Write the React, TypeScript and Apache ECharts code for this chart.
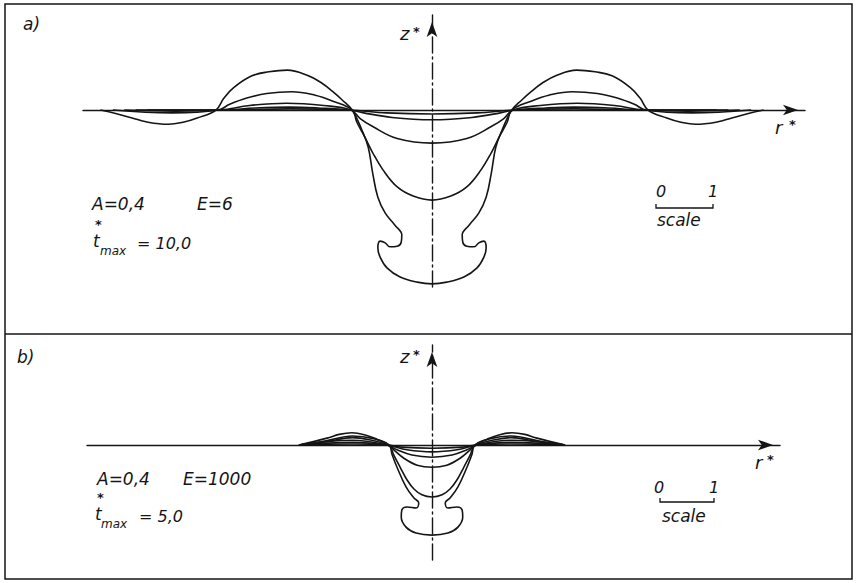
import React, { useEffect, useRef } from "react";
import * as echarts from "echarts";

// ---- Panel a) (A=0,4, E=6): right halves of axisymmetric interface profiles, scale units ----
const a1R = [0, 0.8, 1.45, 2.5, 3.7, 5.0];
const a1Z = [-0.07, -0.05, 0, 0.02, 0, 0];
const a2R = [0, 0.7, 1.2, 1.45, 2.0, 2.5, 3.1, 3.7, 5.2];
const a2Z = [-0.17, -0.13, -0.05, 0, 0.035, 0.05, 0.035, 0, 0];
const a3R = [0, 0.61, 1.04, 1.26, 1.42, 1.9, 2.55, 3.2, 3.72, 4.5, 5.4];
const a3Z = [-0.58, -0.5, -0.29, -0.15, 0, 0.08, 0.12, 0.08, 0, -0.02, 0];
const a4R = [0, 0.33, 0.61, 0.86, 1.04, 1.18, 1.32, 1.4, 1.75, 2.05, 2.46, 2.9, 3.25, 3.55, 3.75, 4.56, 5.6];
const a4Z = [-1.58, -1.51, -1.35, -1.05, -0.75, -0.47, -0.21, 0, 0.16, 0.26, 0.32, 0.29, 0.21, 0.1, 0, -0.05, 0];
const a5R = [0, 0.26, 0.56, 0.79, 0.91, 0.95, 0.91, 0.82, 0.74, 0.61, 0.54, 0.53, 0.65, 0.82, 0.95, 1.04, 1.12, 1.23, 1.4, 1.58, 1.75, 1.93, 2.19, 2.54, 2.86, 3.16, 3.47, 3.65, 3.79, 4.12, 4.35, 4.63, 5.0, 5.26, 5.55, 5.82];
const a5Z = [-3.05, -3.02, -2.93, -2.77, -2.58, -2.42, -2.3, -2.33, -2.4, -2.39, -2.32, -2.19, -2.02, -1.81, -1.53, -1.11, -0.65, -0.35, 0, 0.18, 0.33, 0.47, 0.61, 0.7, 0.67, 0.6, 0.4, 0.21, 0, -0.14, -0.21, -0.25, -0.21, -0.14, -0.06, 0];

// ---- Panel b) (A=0,4, E=1000) ----
const b1R = [0, 0.57, 0.85, 1.5, 2.51];
const b1Z = [-0.06, -0.04, 0, 0.02, 0];
const b2R = [0, 0.47, 0.85, 1.5, 2.51];
const b2Z = [-0.13, -0.09, 0, 0.05, 0];
const b3R = [0, 0.38, 0.66, 0.85, 1.5, 2.51];
const b3Z = [-0.23, -0.19, -0.09, 0, 0.09, 0];
const b4R = [0, 0.28, 0.53, 0.72, 0.83, 1.1, 1.5, 2.0, 2.51];
const b4Z = [-0.42, -0.38, -0.25, -0.09, 0, 0.08, 0.14, 0.06, 0];
const b5R = [0, 0.19, 0.34, 0.47, 0.6, 0.72, 0.81, 1.1, 1.5, 2.0, 2.51];
const b5Z = [-0.98, -0.94, -0.83, -0.66, -0.42, -0.19, 0, 0.12, 0.17, 0.08, 0];
const b6R = [0, 0.3, 0.49, 0.58, 0.57, 0.47, 0.3, 0.25, 0.34, 0.49, 0.66, 0.75, 0.81, 1.04, 1.26, 1.51, 1.75, 1.98, 2.51];
const b6Z = [-1.7, -1.66, -1.55, -1.36, -1.23, -1.17, -1.19, -1.09, -1.0, -0.79, -0.42, -0.19, 0, 0.11, 0.19, 0.23, 0.2, 0.13, 0];

// axis extents (scale units)
const aXRange = [-6.123, 6.544];
const aYRange = [-3.105, 1.667];
const bXRange = [-6.509, 6.566];
const bYRange = [-2.17, 1.887];

const INK = "#151515";
const FONT = '"DejaVu Sans", sans-serif';

function mirror(r: number[], z: number[]): number[][] {
  const left = r.map((v, i) => [-v, z[i]]).reverse();
  const right = r.slice(1).map((v, i) => [v, z[i + 1]]);
  return left.concat(right);
}

function txt(text: string, x: number, y: number, size: number, extra: any = {}) {
  return {
    type: "text",
    x,
    y,
    silent: true,
    style: {
      text,
      fontFamily: FONT,
      fontStyle: "italic",
      fontSize: size,
      fill: INK,
      align: "left",
      verticalAlign: "middle",
      ...extra,
    },
  };
}

function axisLine(dash: any) {
  return {
    show: true,
    onZero: true,
    symbol: ["none", "arrow"],
    symbolSize: [8, 15],
    symbolOffset: [0, -7],
    lineStyle: { color: INK, width: 1.4, type: dash },
  };
}

const STAR = { fontStyle: "normal", fontWeight: "bold" };

export default function App() {
  const ref = useRef<HTMLDivElement>(null);
  useEffect(() => {
    if (!ref.current) return;
    const chart = echarts.init(ref.current, undefined, { renderer: "svg" });
    const curvesA = [
      [a1R, a1Z],
      [a2R, a2Z],
      [a3R, a3Z],
      [a4R, a4Z],
      [a5R, a5Z],
    ];
    const curvesB = [
      [b1R, b1Z],
      [b2R, b2Z],
      [b3R, b3Z],
      [b4R, b4Z],
      [b5R, b5Z],
      [b6R, b6Z],
    ];
    const mk = (c: number[][], idx: number) => ({
      type: "line",
      xAxisIndex: idx,
      yAxisIndex: idx,
      data: mirror(c[0], c[1]),
      symbol: "none",
      smooth: 0.4,
      silent: true,
      lineStyle: { color: INK, width: 1.6 },
    });
    const hidden = {
      axisTick: { show: false },
      axisLabel: { show: false },
      splitLine: { show: false },
    };
    const option: any = {
      animation: false,
      backgroundColor: "#ffffff",
      grid: [
        { left: 83, top: 15, width: 722, height: 272 },
        { left: 87, top: 345, width: 693, height: 215 },
      ],
      xAxis: [
        { type: "value", gridIndex: 0, min: aXRange[0], max: aXRange[1], axisLine: axisLine("solid"), ...hidden },
        { type: "value", gridIndex: 1, min: bXRange[0], max: bXRange[1], axisLine: axisLine("solid"), ...hidden },
      ],
      yAxis: [
        { type: "value", gridIndex: 0, min: aYRange[0], max: aYRange[1], axisLine: axisLine([16, 4, 2, 4]), ...hidden },
        { type: "value", gridIndex: 1, min: bYRange[0], max: bYRange[1], axisLine: axisLine([16, 4, 2, 4]), ...hidden },
      ],
      series: [...curvesA.map((c) => mk(c, 0)), ...curvesB.map((c) => mk(c, 1))],
      graphic: [
        { type: "rect", silent: true, shape: { x: 5, y: 4, width: 847, height: 575 }, style: { fill: "none", stroke: INK, lineWidth: 1.5 } },
        { type: "line", silent: true, shape: { x1: 5, y1: 334, x2: 852, y2: 334 }, style: { stroke: INK, lineWidth: 1.5 } },
        // panel a labels
        txt("a)", 23, 24, 17),
        txt("z", 400, 33, 18),
        txt("*", 413, 31, 13, STAR),
        txt("r", 775, 127, 18),
        txt("*", 789, 124, 13, STAR),
        txt("A=0,4", 92, 204, 17),
        txt("E=6", 197, 204, 17),
        txt("t", 93, 241, 17),
        txt("*", 95, 224.5, 13, STAR),
        txt("max", 100, 251, 12),
        txt("= 10,0", 137, 243, 16),
        txt("0", 656, 191, 16),
        txt("1", 708, 191, 16),
        { type: "polyline", silent: true, shape: { points: [[656, 204], [656, 208], [713, 208], [713, 204]] }, style: { fill: "none", stroke: INK, lineWidth: 1.3 } },
        txt("scale", 657, 220, 17),
        // panel b labels
        txt("b)", 17, 357, 17),
        txt("z", 400, 356, 18),
        txt("*", 413, 354, 13, STAR),
        txt("r", 755, 462, 18),
        txt("*", 767, 459, 13, STAR),
        txt("A=0,4", 97, 479, 17),
        txt("E=1000", 183, 479, 17),
        txt("t", 95, 514, 17),
        txt("*", 97, 497.5, 13, STAR),
        txt("max", 101, 524, 12),
        txt("= 5,0", 139, 516, 16),
        txt("0", 654, 487, 16),
        txt("1", 709, 487, 16),
        { type: "polyline", silent: true, shape: { points: [[660, 498], [660, 502], [714, 502], [714, 498]] }, style: { fill: "none", stroke: INK, lineWidth: 1.3 } },
        txt("scale", 662, 516, 17),
      ],
    };
    chart.setOption(option);
    return () => chart.dispose();
  }, []);
  return (
    <div
      ref={ref}
      style={{ position: "fixed", left: 0, top: 0, width: 857, height: 583, background: "#fff" }}
    />
  );
}
